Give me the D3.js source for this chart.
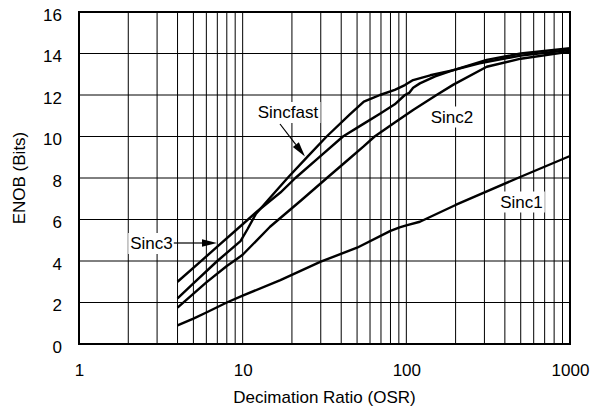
<!DOCTYPE html>
<html>
<head>
<meta charset="utf-8">
<script src="https://cdn.jsdelivr.net/npm/d3@7"></script>
<style>
html,body{margin:0;padding:0;background:#fff;}
svg{display:block;}
text{font-family:"Liberation Sans",Arial,sans-serif;fill:#000;}
</style>
</head>
<body>
<svg id="chart" width="600" height="411"></svg>
<script>
// ---- data ----
const osrTicks = [1, 10, 100, 1000];
const enobTicks = [0, 2, 4, 6, 8, 10, 12, 14, 16];

const sinc1Osr  = [4, 5, 6, 8, 10, 17, 30, 50, 80, 91, 100, 121, 200, 500, 1000];
const sinc1Enob = [0.9, 1.22, 1.52, 2.0, 2.33, 3.08, 3.97, 4.64, 5.45, 5.62, 5.72, 5.89, 6.7, 8.06, 9.06];

const sinc2Osr  = [4, 6, 8, 9.3, 10, 14.7, 22.9, 32.7, 45, 54.6, 64, 85, 110, 153, 194, 310, 500, 1000];
const sinc2Enob = [1.75, 2.97, 3.76, 4.12, 4.3, 5.65, 6.94, 8.0, 8.94, 9.51, 10.0, 10.67, 11.28, 12.0, 12.5, 13.36, 13.75, 14.09];

const sinc3Osr  = [4, 5.5, 7, 10, 12.3, 17, 21, 30, 41, 55, 69, 85, 98, 104, 110, 121, 150, 194, 280, 500, 1000];
const sinc3Enob = [3.0, 3.96, 4.69, 5.77, 6.4, 7.3, 8.0, 9.07, 10.0, 10.62, 11.1, 11.55, 12.0, 12.1, 12.35, 12.56, 12.9, 13.2, 13.53, 13.9, 14.17];

const sincfastOsr  = [4, 5, 7, 9.7, 10.7, 12, 14.7, 18.8, 25, 32.6, 45, 55, 62, 69, 85, 98, 110, 140, 194, 310, 500, 1000];
const sincfastEnob = [2.2, 2.92, 4.0, 4.96, 5.53, 6.25, 7.05, 8.0, 9.04, 10.0, 11.05, 11.68, 11.85, 12.0, 12.25, 12.48, 12.72, 12.95, 13.2, 13.69, 14.0, 14.25];

const seriesNames = ["Sinc1", "Sinc2", "Sinc3", "Sincfast"];

(function () {
// ---- layout ----
const svg = d3.select("#chart");
const pL = 79, pR = 570, pT = 12, pB = 344;
const x = d3.scaleLog().domain([1, 1000]).range([pL, pR]);
const y = d3.scaleLinear().domain([0, 16]).range([pB, pT]);
const FS = 17;
const FF = '"Liberation Sans",Arial,sans-serif';

// grid: vertical (log) lines
const minor = [];
for (let dec = 1; dec < 1000; dec *= 10) for (let m = 2; m <= 9; m++) minor.push(dec * m);
minor.push(10, 100);
svg.append("g").selectAll("line").data(minor).join("line")
  .attr("x1", d => x(d)).attr("x2", d => x(d))
  .attr("y1", pT).attr("y2", pB)
  .attr("stroke", "#000").attr("stroke-width", 1);
svg.append("g").selectAll("line").data(enobTicks.slice(1, -1)).join("line")
  .attr("x1", pL).attr("x2", pR)
  .attr("y1", d => y(d)).attr("y2", d => y(d))
  .attr("stroke", "#000").attr("stroke-width", 1);

// curves
const line = d3.line().x(d => x(d[0])).y(d => y(d[1]));
const series = [
  d3.zip(sinc1Osr, sinc1Enob),
  d3.zip(sinc2Osr, sinc2Enob),
  d3.zip(sinc3Osr, sinc3Enob),
  d3.zip(sincfastOsr, sincfastEnob)
];
svg.append("g").selectAll("path").data(series).join("path")
  .attr("d", line).attr("fill", "none").attr("stroke", "#000")
  .attr("stroke-width", 2.4).attr("stroke-linejoin", "round");

// frame
svg.append("rect").attr("x", pL).attr("y", pT)
  .attr("width", pR - pL).attr("height", pB - pT)
  .attr("fill", "none").attr("stroke", "#000").attr("stroke-width", 2);

// axes
const xAxis = d3.axisBottom(x).tickValues(osrTicks).tickFormat(d3.format("d")).tickSize(0).tickPadding(0);
const gx = svg.append("g").attr("transform", `translate(0,${pB})`).call(xAxis);
gx.select(".domain").remove();
gx.selectAll("text").attr("y", 32).attr("dy", null)
  .style("font-size", FS + "px").style("font-family", FF).attr("fill", "#000");

const yAxis = d3.axisLeft(y).tickValues(enobTicks).tickFormat(d3.format("d")).tickSize(0).tickPadding(17);
const gy = svg.append("g").attr("transform", `translate(${pL},0)`).call(yAxis);
gy.select(".domain").remove();
gy.selectAll("text").attr("dy", "8").attr("x", -17)
  .style("font-size", FS + "px").style("font-family", FF).attr("fill", "#000");

// axis titles
svg.append("text").attr("x", (pL + pR) / 2).attr("y", 403)
  .attr("text-anchor", "middle").style("font-size", FS + "px")
  .text("Decimation Ratio (OSR)");
svg.append("text").attr("transform", `translate(25,${(pT + pB) / 2}) rotate(-90)`)
  .attr("text-anchor", "middle").style("font-size", FS + "px")
  .text("ENOB (Bits)");

// labels with white boxes
function label(txt, cx, cy) {
  const g = svg.append("g");
  const t = g.append("text").attr("x", cx).attr("y", cy + 6).attr("text-anchor", "middle")
    .style("font-size", FS + "px").text(txt);
  const b = t.node().getBBox();
  g.insert("rect", "text").attr("x", b.x - 2).attr("y", b.y - 1)
    .attr("width", b.width + 4).attr("height", b.height + 2).attr("fill", "#fff");
  return b;
}
const b3 = label(seriesNames[2], 151.5, 243);
label(seriesNames[3], 288, 112);
label(seriesNames[1], 452, 116.5);
label(seriesNames[0], 521.5, 201.5);

// arrows
function arrow(x1, y1, x2, y2) {
  const a = Math.atan2(y2 - y1, x2 - x1), L = 15, W = 3.8;
  const bx = x2 - L * Math.cos(a), by = y2 - L * Math.sin(a);
  svg.append("line").attr("x1", x1).attr("y1", y1).attr("x2", bx).attr("y2", by)
    .attr("stroke", "#000").attr("stroke-width", 1.2);
  svg.append("path").attr("d",
    `M${x2},${y2}L${bx + W * Math.sin(a)},${by - W * Math.cos(a)}L${bx - W * Math.sin(a)},${by + W * Math.cos(a)}Z`)
    .attr("fill", "#000");
}
arrow(b3.x + b3.width + 1, 243, 217, 243);
arrow(280, 124, 305, 156.5);
})();
</script>
</body>
</html>
